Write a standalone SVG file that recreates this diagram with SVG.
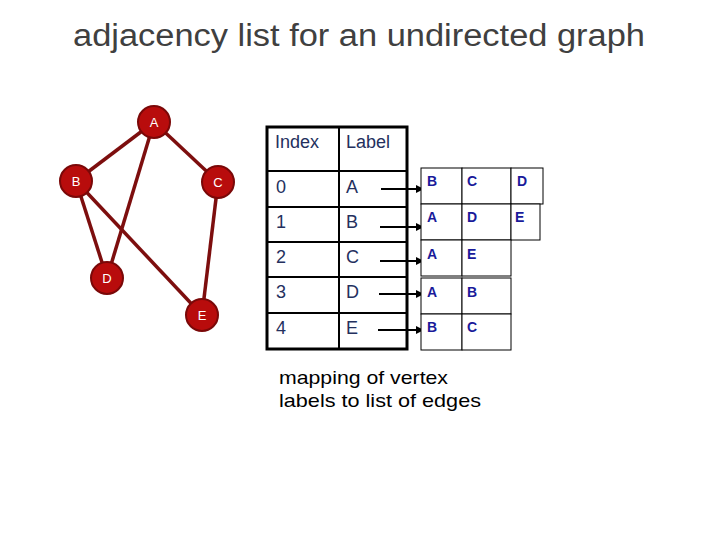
<svg xmlns="http://www.w3.org/2000/svg" width="720" height="540" viewBox="0 0 720 540">
<defs>
<marker id="ah" markerWidth="8" markerHeight="8" refX="7" refY="4" orient="auto" markerUnits="userSpaceOnUse">
<path d="M0,0 L8,4 L0,8 Z" fill="#000"/>
</marker>
<style>
.t{font-family:"Comic Sans MS","Liberation Sans",sans-serif}
.node circle{fill:#b80c0c;stroke:#7a0808;stroke-width:2}
.node text{fill:#fff;font-size:13px;text-anchor:middle;font-family:"Liberation Sans",sans-serif}
.edge{stroke:#7d0e0e;stroke-width:3.5}
.tbl{fill:none;stroke:#000;stroke-width:3}
.tl{stroke:#000;stroke-width:2}
.cell{fill:#fff;stroke:#000;stroke-width:1}
.tx{fill:#24305e;font-size:18px;font-family:"Liberation Sans",sans-serif}
.cx{fill:#1a1a9a;font-size:14px;font-family:"Liberation Sans",sans-serif;font-weight:bold}
.arr{stroke:#000;stroke-width:2;marker-end:url(#ah)}
</style>
</defs>
<rect width="720" height="540" fill="#fff"/>
<text class="t" x="73" y="46" font-size="31" fill="#404040" textLength="572" lengthAdjust="spacingAndGlyphs" font-family="Liberation Sans, sans-serif">adjacency list for an undirected graph</text>

<g id="edges">
<line class="edge" x1="154" y1="122" x2="76" y2="181"/>
<line class="edge" x1="154" y1="122" x2="218" y2="182"/>
<line class="edge" x1="154" y1="122" x2="107" y2="278"/>
<line class="edge" x1="76" y1="181" x2="107" y2="278"/>
<line class="edge" x1="76" y1="181" x2="202" y2="315"/>
<line class="edge" x1="218" y1="182" x2="202" y2="315"/>
</g>
<g id="A" class="node"><circle cx="154" cy="122" r="16"/><text x="154" y="127">A</text></g>
<g id="B" class="node"><circle cx="76" cy="181" r="16"/><text x="76" y="186">B</text></g>
<g id="C" class="node"><circle cx="218" cy="182" r="16"/><text x="218" y="187">C</text></g>
<g id="D" class="node"><circle cx="107" cy="278" r="16"/><text x="107" y="283">D</text></g>
<g id="E" class="node"><circle cx="202" cy="315" r="16"/><text x="202" y="320">E</text></g>

<g id="table">
<rect class="tbl" x="267" y="127" width="140" height="222"/>
<line class="tl" x1="339" y1="127" x2="339" y2="349"/>
<line class="tl" x1="267" y1="171" x2="407" y2="171"/>
<line class="tl" x1="267" y1="207" x2="407" y2="207"/>
<line class="tl" x1="267" y1="242" x2="407" y2="242"/>
<line class="tl" x1="267" y1="277" x2="407" y2="277"/>
<line class="tl" x1="267" y1="313" x2="407" y2="313"/>
<text class="tx" x="275" y="148">Index</text>
<text class="tx" x="346" y="148">Label</text>
<text class="tx" x="276" y="193">0</text><text class="tx" x="346" y="193">A</text>
<text class="tx" x="276" y="228">1</text><text class="tx" x="346" y="228">B</text>
<text class="tx" x="276" y="263">2</text><text class="tx" x="346" y="263">C</text>
<text class="tx" x="276" y="298">3</text><text class="tx" x="346" y="298">D</text>
<text class="tx" x="276" y="334">4</text><text class="tx" x="346" y="334">E</text>
</g>

<g id="connectors">
<line class="arr" x1="381" y1="189" x2="423" y2="189"/>
<line class="arr" x1="380" y1="227" x2="423" y2="227"/>
<line class="arr" x1="380" y1="261" x2="423" y2="261"/>
<line class="arr" x1="379" y1="294" x2="423" y2="294"/>
<line class="arr" x1="378" y1="330" x2="423" y2="330"/>
</g>

<g id="list0">
<rect class="cell" x="421" y="168" width="41" height="36"/>
<rect class="cell" x="462" y="168" width="49" height="36"/>
<rect class="cell" x="511" y="168" width="32" height="36"/>
<text class="cx" x="427" y="186">B</text><text class="cx" x="467" y="186">C</text><text class="cx" x="517" y="186">D</text>
</g>
<g id="list1">
<rect class="cell" x="421" y="204" width="41" height="36"/>
<rect class="cell" x="462" y="204" width="49" height="36"/>
<rect class="cell" x="511" y="204" width="29" height="36"/>
<text class="cx" x="427" y="222">A</text><text class="cx" x="467" y="222">D</text><text class="cx" x="515" y="222">E</text>
</g>
<g id="list2">
<rect class="cell" x="421" y="240" width="41" height="36"/>
<rect class="cell" x="462" y="240" width="49" height="36"/>
<text class="cx" x="427" y="259">A</text><text class="cx" x="467" y="259">E</text>
</g>
<g id="list3">
<rect class="cell" x="421" y="278" width="41" height="36"/>
<rect class="cell" x="462" y="278" width="49" height="36"/>
<text class="cx" x="427" y="297">A</text><text class="cx" x="467" y="297">B</text>
</g>
<g id="list4">
<rect class="cell" x="421" y="314" width="41" height="36"/>
<rect class="cell" x="462" y="314" width="49" height="36"/>
<text class="cx" x="427" y="332">B</text><text class="cx" x="467" y="332">C</text>
</g>

<text x="279" y="384" font-size="19" fill="#000" font-family="Liberation Sans, sans-serif" textLength="169" lengthAdjust="spacingAndGlyphs">mapping of vertex</text>
<text x="279" y="407" font-size="19" fill="#000" font-family="Liberation Sans, sans-serif" textLength="202" lengthAdjust="spacingAndGlyphs">labels to list of edges</text>
</svg>
